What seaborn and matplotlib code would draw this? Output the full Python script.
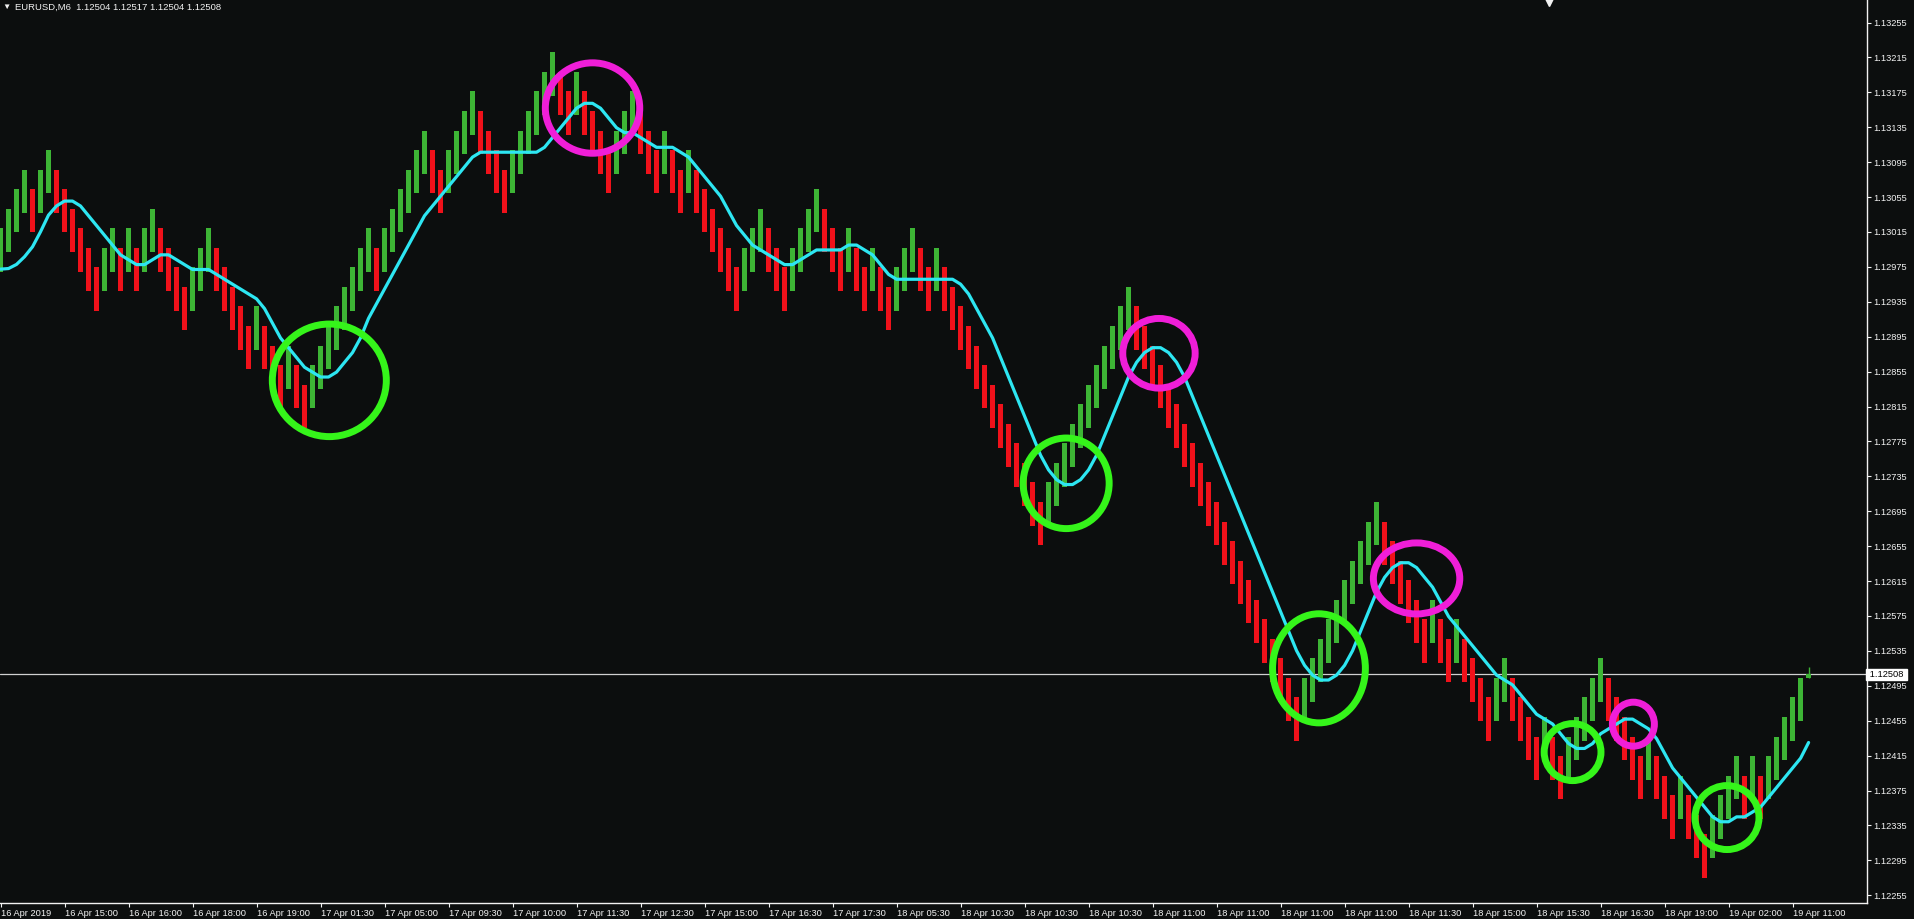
import numpy as np
import pandas as pd
import matplotlib
matplotlib.use('Agg')
import matplotlib.pyplot as plt
import matplotlib.transforms as mtransforms
from matplotlib.patches import Ellipse
import seaborn as sns

# Renko bricks: how many boxes each brick's top sits below the first swing high
brick_depth = [6, 5, 4, 3, 4, 3, 2, 3, 4, 5, 6, 7, 8, 7, 6, 7, 6, 7, 6, 5,
               6, 7, 8, 9, 8, 7, 6, 7, 8, 9, 10, 11, 10, 11, 12, 13, 12, 13, 14, 13,
               12, 11, 10, 9, 8, 7, 6, 7, 6, 5, 4, 3, 2, 1, 2, 3, 2, 1, 0,
               -1, 0, 1, 2, 3, 2, 1, 0, -1, -2, -3, -2, -1, -2, -1, 0, 1, 2, 1, 0,
               -1, 0, 1, 2, 1, 2, 3, 2, 3, 4, 5, 6, 7, 8, 7, 6, 5, 6, 7, 8,
               7, 6, 5, 4, 5, 6, 7, 6, 7, 8, 7, 8, 9, 8, 7, 6, 7, 8, 7,
               8, 9, 10, 11, 12, 13, 14, 15, 16, 17, 18, 19, 20,
               19, 18, 17, 16, 15, 14, 13, 12, 11, 10, 9,
               10, 11, 12, 13, 14, 15, 16, 17, 18, 19, 20, 21, 22, 23, 24, 25, 26, 27, 28, 29, 30,
               29, 28, 27, 26, 25, 24, 23, 22, 21, 20,
               21, 22, 23, 24, 25, 26,
               25, 26, 27, 26, 27, 28, 29, 30, 29, 28, 29, 30, 31, 32, 31, 32, 33, 32, 31, 30,
               29, 28, 29, 30, 31, 32, 33, 32, 33, 34, 35, 34, 35, 36, 37, 36, 35, 34, 33, 34,
               33, 34, 33, 32, 31, 30, 29]
box_size = 0.000224      # one brick step
brick_range = 0.000496   # drawn height of a brick
last_top = 1.12504       # top of the last closed brick (open of the live one)

# live bar and price line
live_open, live_high, live_close = 1.12504, 1.12517, 1.12508

# moving average values read where the chart starts (before 8 bricks exist) and at the live bar
ma_head = [1.129724, 1.129731, 1.129778, 1.129866, 1.129980, 1.130152, 1.130343]
ma_live = 1.12430

time_labels = ['16 Apr 2019', '16 Apr 15:00', '16 Apr 16:00', '16 Apr 18:00', '16 Apr 19:00',
               '17 Apr 01:30', '17 Apr 05:00', '17 Apr 09:30', '17 Apr 10:00', '17 Apr 11:30',
               '17 Apr 12:30', '17 Apr 15:00', '17 Apr 16:30', '17 Apr 17:30', '18 Apr 05:30',
               '18 Apr 10:30', '18 Apr 10:30', '18 Apr 10:30', '18 Apr 11:00', '18 Apr 11:00',
               '18 Apr 11:00', '18 Apr 11:00', '18 Apr 11:30', '18 Apr 15:00', '18 Apr 15:30',
               '18 Apr 16:30', '18 Apr 19:00', '19 Apr 02:00', '19 Apr 11:00']

price_ticks = [1.13255, 1.13215, 1.13175, 1.13135, 1.13095, 1.13055, 1.13015, 1.12975,
               1.12935, 1.12895, 1.12855, 1.12815, 1.12775, 1.12735, 1.12695, 1.12655,
               1.12615, 1.12575, 1.12535, 1.12495, 1.12455, 1.12415, 1.12375, 1.12335,
               1.12295, 1.12255]

# hand drawn ellipses on the chart (centre bar, centre price, width in bars, height in price)
circle_bar = [41.1, 74.0, 133.2, 144.8, 164.8, 177.0, 196.5, 204.1, 215.8]
circle_price = [1.12845, 1.13157, 1.12727, 1.12876, 1.12515, 1.12618, 1.12419, 1.12451, 1.12344]
circle_w = [14.25, 11.8, 10.75, 9.05, 11.6, 10.8, 7.1, 5.25, 8.0]
circle_h = [0.00129, 0.001036, 0.001038, 0.000798, 0.00125, 0.000814, 0.000653, 0.000504, 0.000733]
circle_kind = ['low', 'high', 'low', 'high', 'low', 'high', 'low', 'high', 'low']

# build the brick table
depth = np.array(brick_depth)
df = pd.DataFrame({'bar': np.arange(len(depth))})
df['top'] = last_top + (depth[-1] - depth) * box_size
df['bottom'] = df['top'] - brick_range
df['mid'] = (df['top'] + df['bottom']) / 2
df['up'] = np.r_[True, np.diff(depth) < 0]
df['ma'] = df['mid'].rolling(8).mean()
df.loc[:len(ma_head) - 1, 'ma'] = ma_head
ma_df = pd.concat([df[['bar', 'ma']], pd.DataFrame({'bar': [len(df)], 'ma': [ma_live]})],
                  ignore_index=True)

BG = '#0c0e0e'
FG = '#f2f2f2'
GREEN = '#3db535'
RED = '#f0111a'
CYAN = '#2de6f2'
CIRCLE_COL = {'low': '#35f51a', 'high': '#f01ed8'}

sns.set_theme(style='dark', rc={'axes.facecolor': BG, 'figure.facecolor': BG})
plt.rcParams['font.family'] = ['Liberation Sans', 'DejaVu Sans']

W, H = 1915, 919
fig = plt.figure(figsize=(W / 100, H / 100), dpi=100)
ax = fig.add_axes([0, 16 / H, 1867 / W, 903 / H])
ax.set_facecolor(BG)

# bricks
ax.bar(df['bar'], brick_range, bottom=df['bottom'], width=0.56,
       color=np.where(df['up'], GREEN, RED), linewidth=0, zorder=2)

# live bar
n = len(df)
ax.vlines(n, live_open, live_high, color=GREEN, lw=1, zorder=2)
ax.bar([n], [live_close - live_open], bottom=live_open, width=0.56, color=GREEN,
       linewidth=0, zorder=2)

# moving average
sns.lineplot(data=ma_df, x='bar', y='ma', ax=ax, color=CYAN, lw=2.3, zorder=3)

# current price line
ax.axhline(live_close, color='#d0d0d0', lw=0.9, zorder=1)

# ellipses
for bx, py, w, h, kind in zip(circle_bar, circle_price, circle_w, circle_h, circle_kind):
    ax.add_patch(Ellipse((bx, py), w, h, fill=False, edgecolor=CIRCLE_COL[kind],
                         lw=5.0, zorder=4))

ax.set_xlim(-0.0625, 233.3)
ax.set_ylim(1.122461, 1.132808)
ax.set_xlabel('')
ax.set_ylabel('')

for side in ['left', 'top']:
    ax.spines[side].set_visible(False)
for side in ['right', 'bottom']:
    ax.spines[side].set_visible(True)
    ax.spines[side].set_color(FG)
    ax.spines[side].set_linewidth(1.0)

ax.yaxis.tick_right()
ax.set_yticks(price_ticks)
ax.set_yticklabels(['%.5f' % p for p in price_ticks])
ax.set_xticks(np.arange(0, 8 * len(time_labels), 8))
ax.set_xticklabels(time_labels, ha='left')
ax.tick_params(axis='y', colors=FG, labelsize=6.7, length=3, width=0.8, pad=1.5,
               direction='out', right=True, left=False)
ax.tick_params(axis='x', colors=FG, labelsize=6.7, length=3, width=0.8, pad=1.5,
               direction='out', bottom=True)
ax.grid(False)

# current price tag on the axis
trans = mtransforms.blended_transform_factory(ax.transAxes, ax.transData)
ax.text(1.0, live_close, ' %.5f ' % live_close, transform=trans, ha='left', va='center',
        fontsize=6.7, color='black',
        bbox=dict(boxstyle='square,pad=0.12', facecolor='white', edgecolor='white'),
        clip_on=False, zorder=6)

# header
fig.text(2 / W, 1 - 7.5 / H, '\u25bc', fontsize=6, color=FG, va='center', ha='left')
fig.text(15 / W, 1 - 7.5 / H, 'EURUSD,M6  1.12504 1.12517 1.12504 1.12508', fontsize=6.8,
         color=FG, va='center', ha='left')

# chart shift marker at the top
ax.plot([193.5], [1.132808], marker='v', color=FG, markersize=8, clip_on=False, zorder=6)

fig.savefig('out.png', dpi=100, facecolor=BG)
